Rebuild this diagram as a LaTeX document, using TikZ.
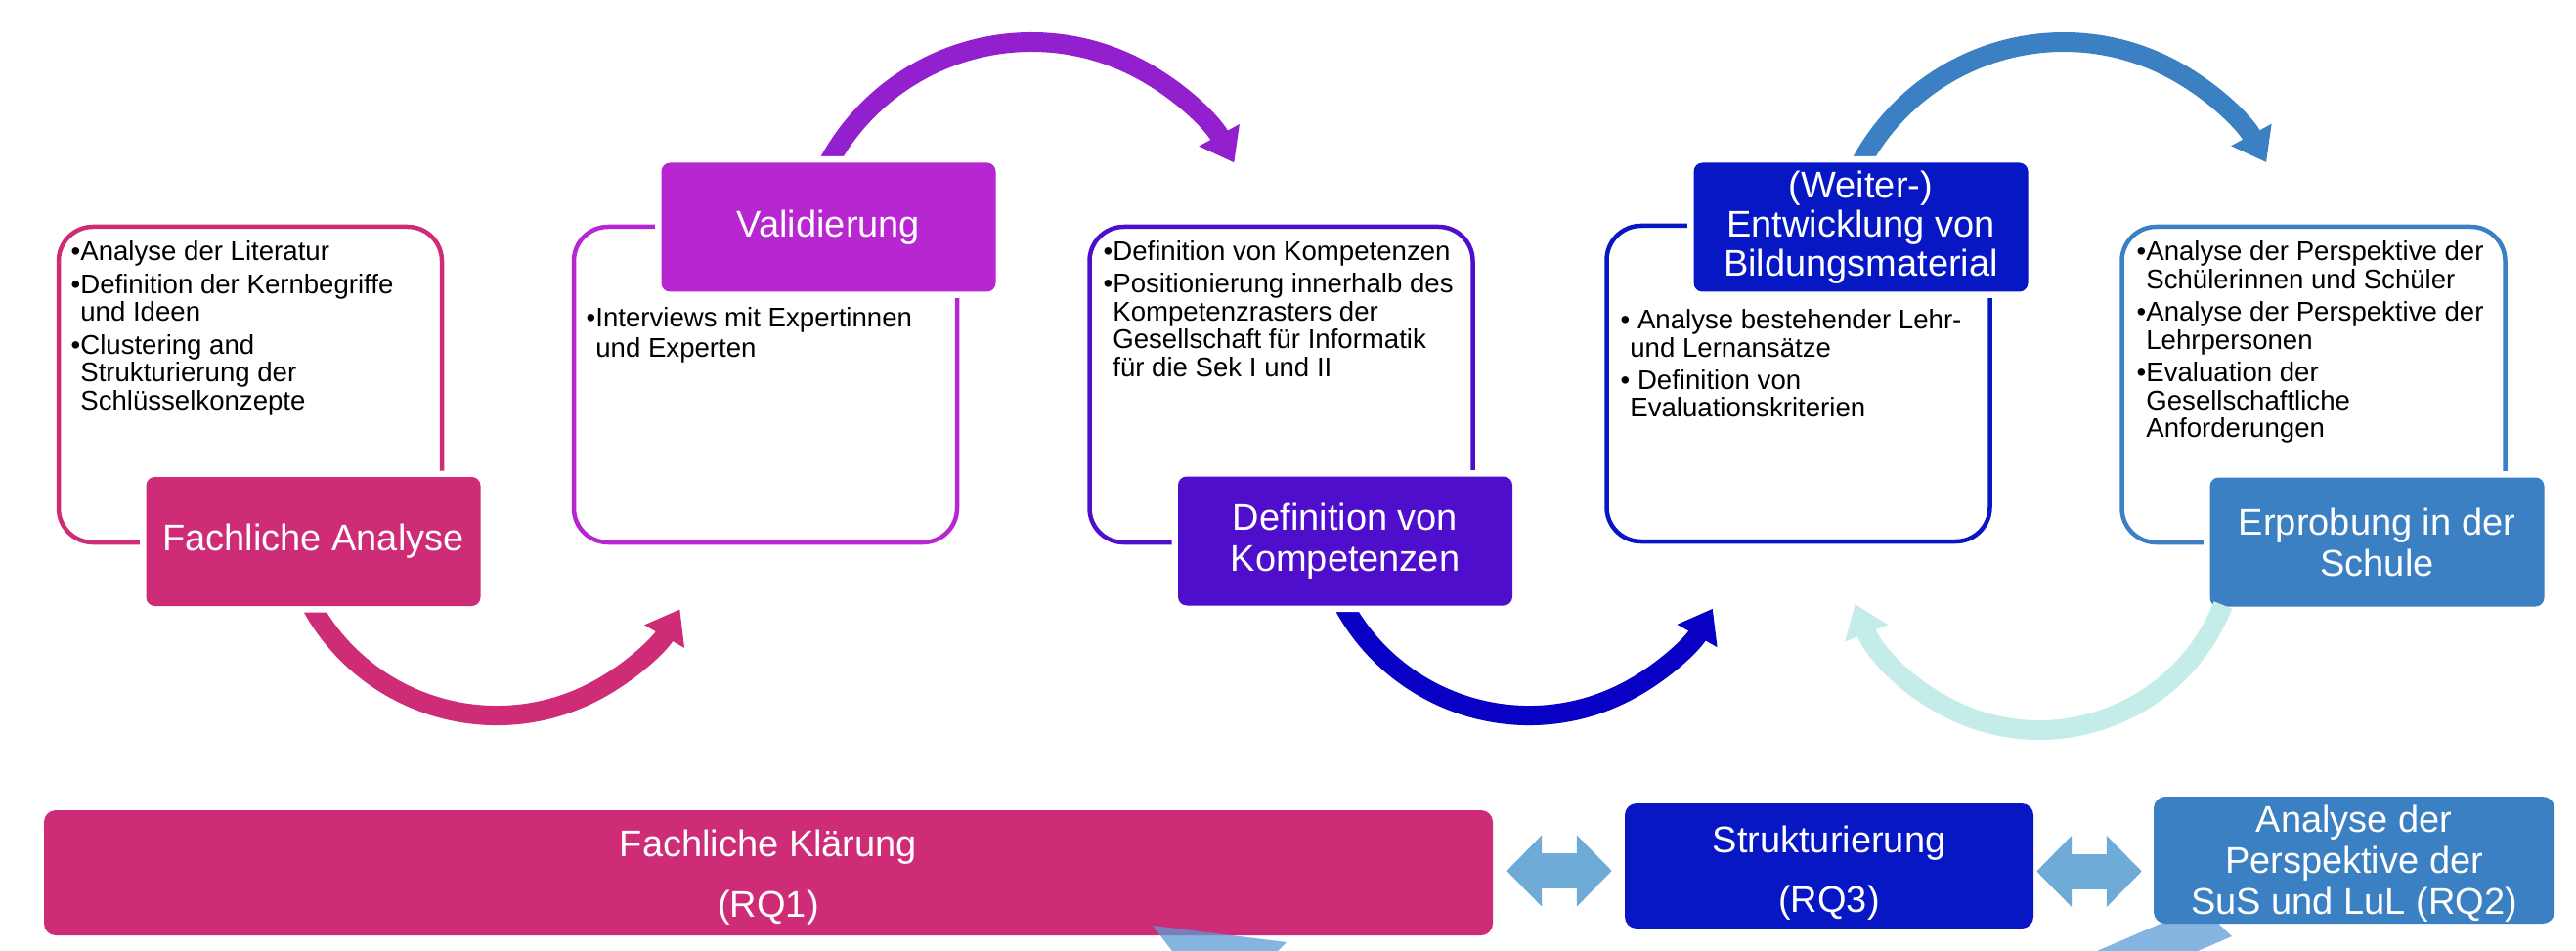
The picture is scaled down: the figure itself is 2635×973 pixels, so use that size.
\documentclass[tikz,border=0pt]{standalone}
\usepackage{fontspec}
\setmainfont{Liberation Sans}
\usetikzlibrary{arrows.meta}

\definecolor{cPink}{HTML}{CF2C78}
\definecolor{cMagenta}{HTML}{B726D1}
\definecolor{cViolet}{HTML}{9320CE}
\definecolor{cIndigo}{HTML}{4F0DCC}
\definecolor{cDeep}{HTML}{0800C4}
\definecolor{cRoyal}{HTML}{0717C4}
\definecolor{cSteel}{HTML}{3B80C2}
\definecolor{cTeal}{HTML}{C4ECE8}
\definecolor{cSky}{HTML}{6EABD7}
\definecolor{cShade}{HTML}{5B9BD5}

% indentation of wrapped bullet lines
\newcommand{\contline}{\phantom{•}}
% invisible strut that lowers a centred text block
\newcommand{\topstrut}[1]{\rule{0pt}{#1}}

\begin{document}
\begin{tikzpicture}[x=1pt,y=1pt,
  frame/.style={draw=#1, line width=4.5pt, rounded corners=35pt,
    minimum width=392pt, minimum height=323pt, inner sep=0pt},
  stage/.style={fill=#1, rounded corners=9pt, minimum width=342pt,
    minimum height=132pt, inner sep=0pt, text=white, align=center,
    font=\fontsize{38}{42}\selectfont,
    preaction={draw=white, line width=13pt}},
  bullets/.style={anchor=north west, inner sep=0pt, align=left,
    font=\fontsize{27.6}{28.5}\selectfont},
  flow/.style={draw=#1, line width=20pt, -{Triangle[length=32pt, width=45pt]}},
  rq/.style={fill=#1, rounded corners=12pt, inner sep=0pt, text=white,
    align=center},
  link/.style={draw=cSky, line width=36pt,
    {Triangle[length=36pt, width=71pt]}-{Triangle[length=36pt, width=71pt]}},
]
\useasboundingbox (0,0) rectangle (2635,-973);
\fill[white] (0,0) rectangle (2635,-973);

% outlined frames holding the bullet lists
\node[frame=cPink]    (f1) at (256,-393.5)    {};
\node[frame=cMagenta] (f2) at (783,-393.5)    {};
\node[frame=cIndigo]  (f3) at (1310.5,-393.5) {};
\node[frame=cRoyal]   (f4) at (1839.5,-392.5) {};
\node[frame=cSteel]   (f5) at (2366.5,-393.5) {};

% start points of the curved arrows (under the stage boxes)
\coordinate (a1) at (316.1,-615.1);
\coordinate (a2) at (844.7,-171.9);
\coordinate (a3) at (1372.1,-615.1);
\coordinate (a4) at (1900.7,-171.9);
\coordinate (a5) at (2273.9,-619);

\draw[flow=cPink]   (a1) arc[start angle=-152.7, end angle=-29.8, radius=216pt];
\draw[flow=cViolet] (a2) arc[start angle=153, end angle=28.5, radius=236pt];
\draw[flow=cDeep]   (a3) arc[start angle=-152.7, end angle=-29.6, radius=216pt];
\draw[flow=cSteel]  (a4) arc[start angle=153, end angle=28.6, radius=236pt];

% stage boxes
\node[stage=cPink]    (s1) at (320.5,-554)    {Fachliche Analyse};
\node[stage=cMagenta] (s2) at (847.5,-232.5)  {Validierung};
\node[stage=cIndigo]  (s3) at (1376,-553.5)   {Definition von\\Kompetenzen};
\node[stage=cRoyal, font=\fontsize{38}{40}\selectfont]
                      (s4) at (1903.5,-232.5) {(Weiter-)\\Entwicklung von\\Bildungsmaterial};
\node[stage=cSteel]   (s5) at (2431.5,-554.5) {Erprobung in der\\Schule};

% feedback arrow back from the school trial
\draw[flow=cTeal] (a5) arc[start angle=-21.5, end angle=-158.8, radius=202pt];

% bullet lists
\node[bullets] (t1) at (72.5,-246.5) {•Analyse der Literatur\\[5pt]
  •Definition der Kernbegriffe\\
  \contline und Ideen\\[5pt]
  •Clustering and\\
  \contline Strukturierung der\\
  \contline Schlüsselkonzepte};
\node[bullets, font=\fontsize{27.6}{30.5}\selectfont] (t2) at (599.5,-314.5)
  {•Interviews mit Expertinnen\\
  \contline und Experten};
\node[bullets] (t3) at (1128.5,-246.5) {•Definition von Kompetenzen\\[4.5pt]
  •Positionierung innerhalb des\\
  \contline Kompetenzrasters der\\
  \contline Gesellschaft für Informatik\\
  \contline für die Sek I und II};
\node[bullets] (t4) at (1657.5,-316.5) {• Analyse bestehender Lehr-\\
  \contline und Lernansätze\\[4.5pt]
  • Definition von\\
  \contline Evaluationskriterien};
\node[bullets] (t5) at (2185.5,-246.5) {•Analyse der Perspektive der\\
  \contline Schülerinnen und Schüler\\[5pt]
  •Analyse der Perspektive der\\
  \contline Lehrpersonen\\[5pt]
  •Evaluation der\\
  \contline Gesellschaftliche\\
  \contline Anforderungen};

% research questions row
\fill[cShade, opacity=0.75] (2145,-973) -- (2222,-940) -- (2264,-940)
  -- (2283,-958) -- (2248,-973) -- cycle;
\node[rq=cPink, minimum width=1482pt, minimum height=128pt,
  font=\fontsize{38}{62}\selectfont] (rq1) at (786,-893)
  {\topstrut{36pt}Fachliche Klärung\\(RQ1)};
\node[rq=cRoyal, minimum width=418pt, minimum height=128pt,
  font=\fontsize{38}{61}\selectfont] (rq3) at (1871,-886)
  {\topstrut{41pt}Strukturierung\\(RQ3)};
\node[rq=cSteel, minimum width=410pt, minimum height=130pt,
  font=\fontsize{38}{42}\selectfont] (rq2) at (2408,-880)
  {\topstrut{34pt}Analyse der\\Perspektive der\\SuS und LuL (RQ2)};
\fill[cShade, opacity=0.75] (1179,-947) -- (1316,-964) -- (1307,-973)
  -- (1199,-973) -- cycle;

\draw[link, shorten <=14pt, shorten >=13pt]
  ([yshift=2pt]rq1.east) -- ([yshift=2pt]rq1.east -| rq3.west);
\draw[link, shorten <=3pt, shorten >=12pt]
  ([yshift=-5.5pt]rq3.east) -- ([yshift=-5.5pt]rq3.east -| rq2.west);
\end{tikzpicture}
\end{document}
